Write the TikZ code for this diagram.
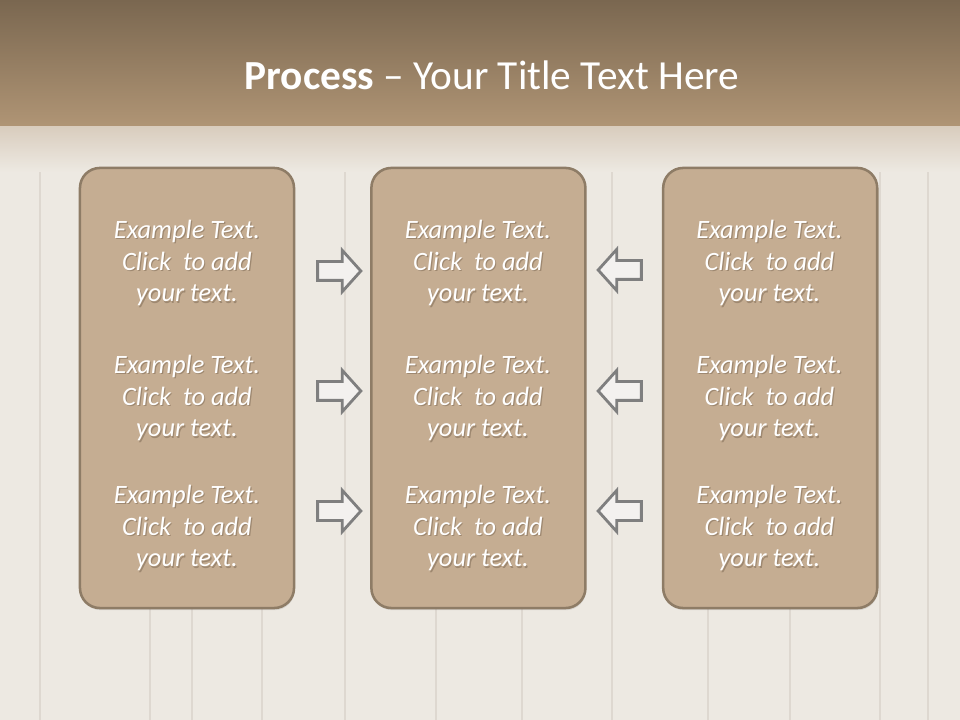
\documentclass[tikz,border=0pt]{standalone}
\usepackage{fontspec}
\setmainfont{Carlito}
\usetikzlibrary{positioning, shapes.arrows, shadows}
\definecolor{headtop} {HTML}{7A6750}
\definecolor{headbot} {HTML}{B09575}
\definecolor{headfade}{HTML}{D9CDBE}
\definecolor{wood}    {HTML}{EDE9E2}
\definecolor{plankln} {HTML}{DED8D0}
\definecolor{boxfill} {HTML}{C5AD92}
\definecolor{boxline} {HTML}{8E7C66}
\definecolor{txtshade}{HTML}{7E6A55}
\definecolor{arrfill} {HTML}{F3F1EF}
\definecolor{arrline} {HTML}{7F7F7F}

\begin{document}
\begin{tikzpicture}[x=0.025cm, y=-0.025cm,
  panel/.style={
    rectangle, rounded corners=0.5cm,
    draw=boxline, fill=boxfill, line width=1.8pt,
    minimum width=5.35cm, minimum height=11cm,
    drop shadow={opacity=0.2, shadow xshift=0.5pt, shadow yshift=-1.5pt}},
  ptext/.style={
    align=center, text=white,
    font=\fontsize{18.8}{22.7}\selectfont\itshape},
  pshade/.style={ptext, text=txtshade, text opacity=0.55},
  flow/.style={
    single arrow, draw=arrline, fill=arrfill, line width=2pt,
    inner xsep=0pt, inner ysep=0.2cm, minimum height=1.08cm,
    single arrow head extend=0.28cm, single arrow tip angle=96},
  plank/.style={plankln, line width=1.2pt},
  title/.style={text=white, font=\fontsize{29.4}{34}\selectfont}
]
  \useasboundingbox (0,0) rectangle (960,720);
  % Background
  \fill[wood] (0,0) rectangle (960,720);
  \foreach \x in {40,150,192,262,345,436,522,612,708,790,880,928}
    \draw[plank] (\x,130) -- (\x,720);
  \shade[top color=headtop, bottom color=headbot] (0,0) rectangle (960,127);
  \shade[top color=headfade, bottom color=wood] (0,127) rectangle (960,172);
  % Title
  \node[title] (title) at (492,75)
    {\textbf{Process} – Your Title Text Here};
  % Panels
  \node[panel] (P1) at (187,388) {};
  \node[panel, right=1.87cm of P1] (P2) {};
  \node[panel, right=1.88cm of P2] (P3) {};
  \foreach \c/\x in {1/187,2/478,3/769.5}
    \foreach \r/\y in {1/263,2/398,3/528} {
      \node[pshade] (S\c\r) at (\x+1.2,\y+1.8)
        {Example Text.\\Click~~to add\\your text.};
      \node[ptext] (T\c\r) at (\x,\y)
        {Example Text.\\Click~~to add\\your text.};
    }
  % Arrows
  \node[flow] (R1) at (335,271) {};
  \node[flow] (R2) at (335,391) {};
  \node[flow] (R3) at (335,511) {};
  \node[flow, shape border rotate=180] (L1) at (624,270) {};
  \node[flow, shape border rotate=180] (L2) at (624,391) {};
  \node[flow, shape border rotate=180] (L3) at (624,511) {};
\end{tikzpicture}
\end{document}
